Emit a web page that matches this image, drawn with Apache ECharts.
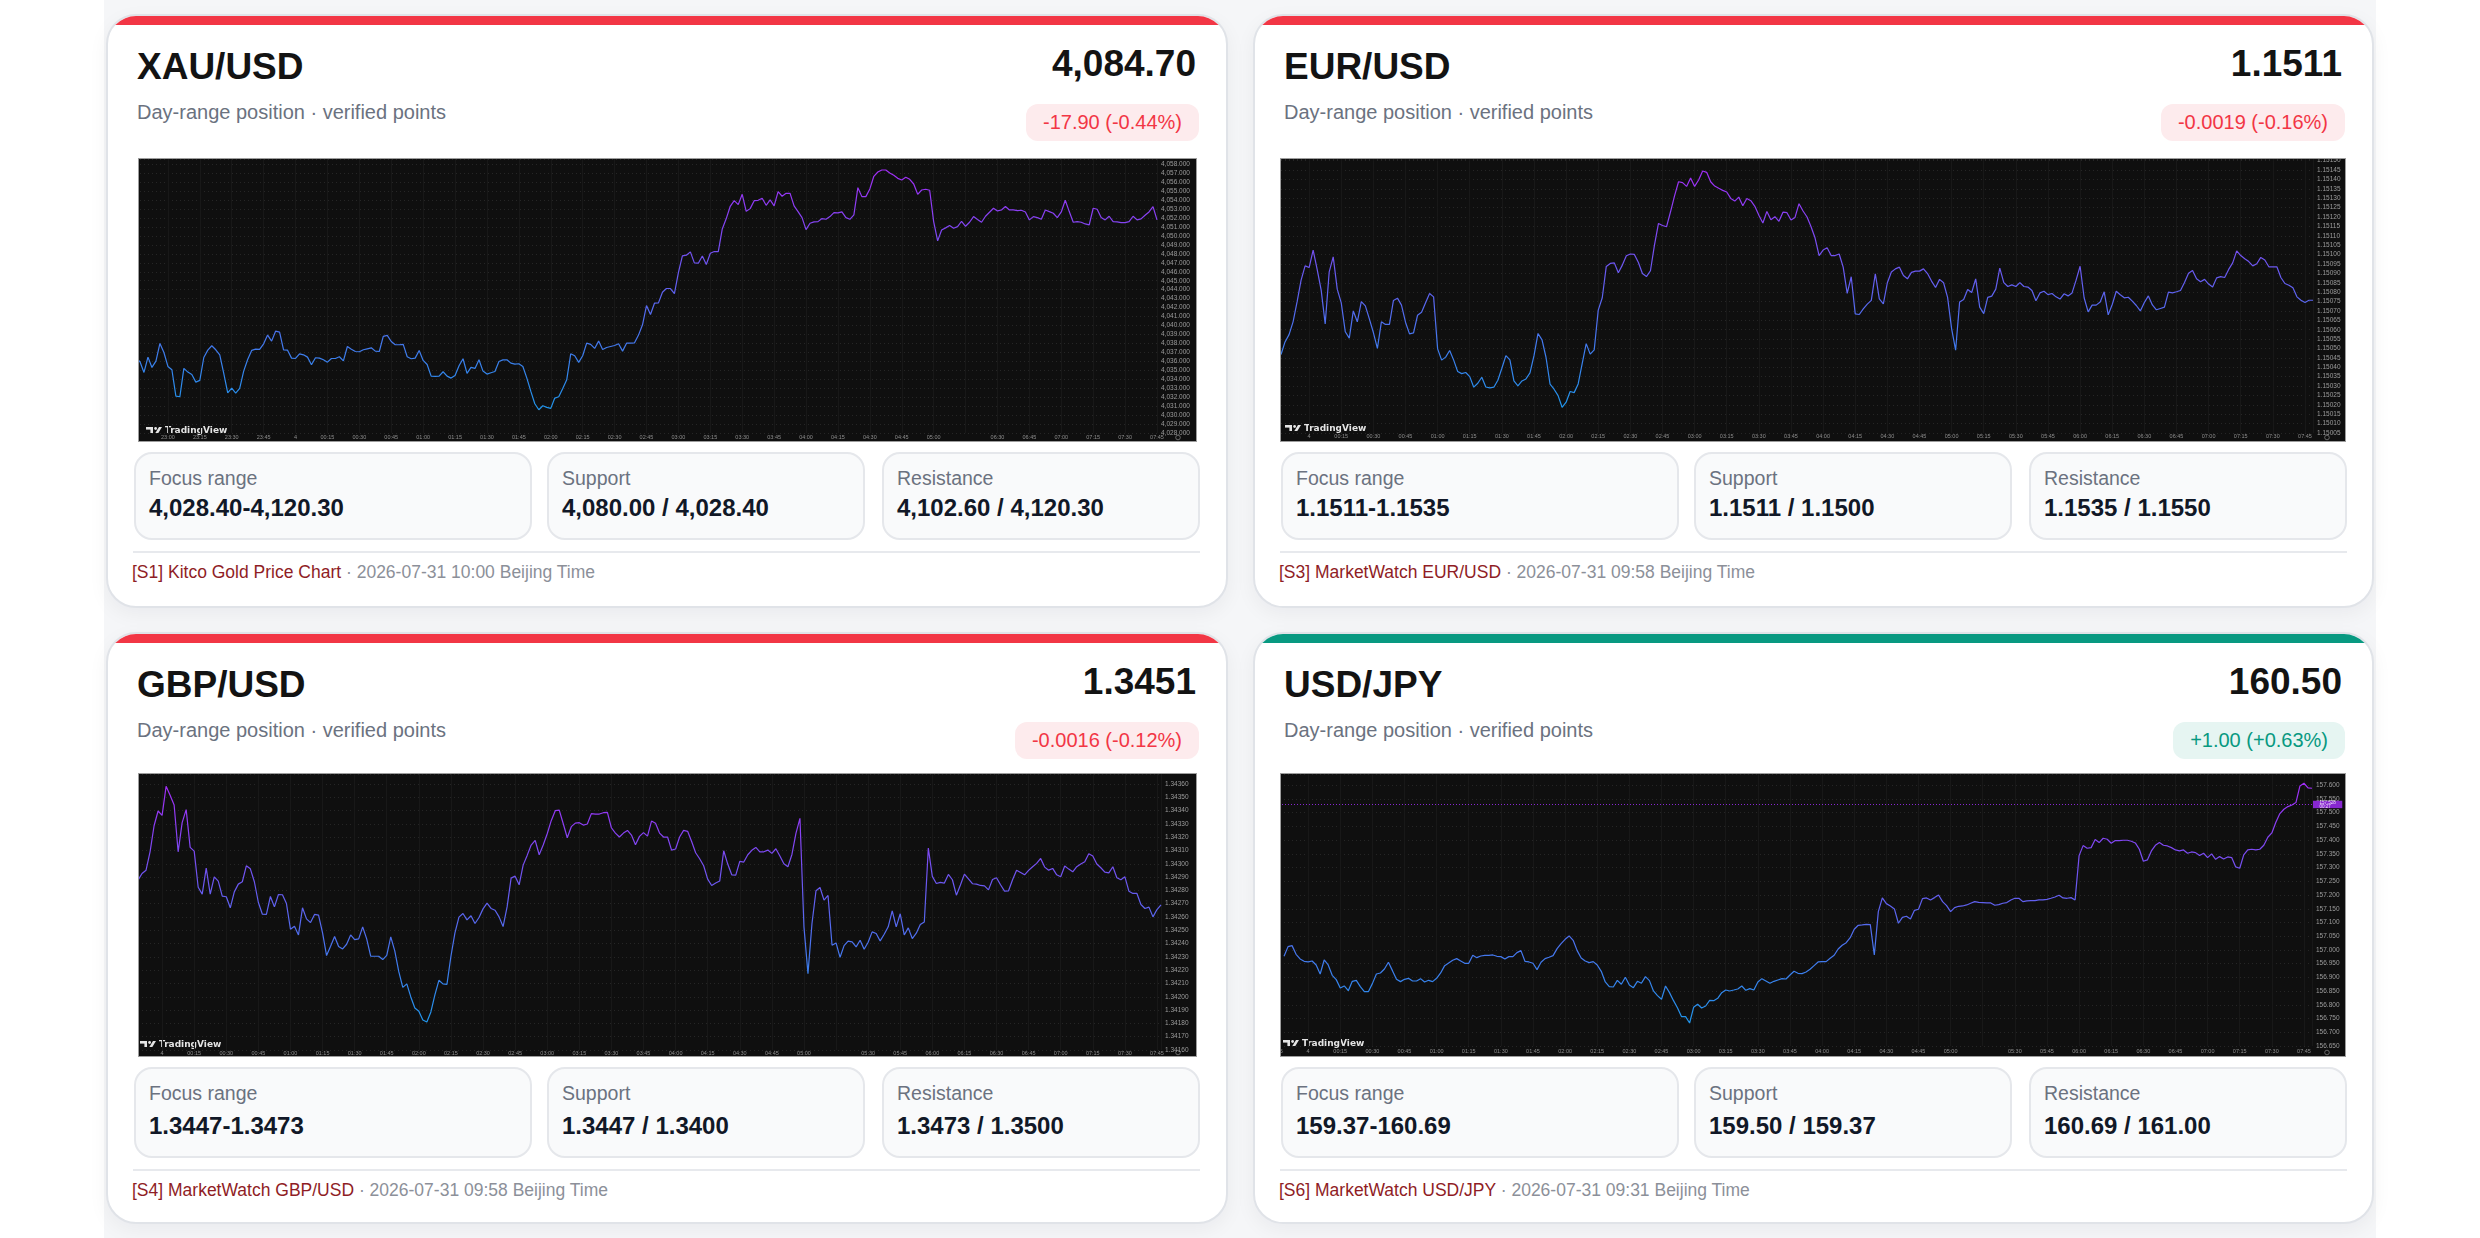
<!DOCTYPE html>
<html>
<head>
<meta charset="utf-8">
<title>FX day-range dashboard</title>
<script src="https://cdn.jsdelivr.net/npm/echarts@6/dist/echarts.min.js"></script>
<style>
html, body { margin:0; padding:0; width:2480px; height:1238px; overflow:hidden; background:#ffffff; font-family:"Liberation Sans", Arial, Helvetica, sans-serif; }
#wrap { position:absolute; left:104px; top:0; width:2272px; height:1238px; background:#f5f6f8; }
.card { position:absolute; box-sizing:border-box; border:2px solid #e0e3e8; border-radius:30px; background:#fff; overflow:hidden; box-shadow:0 6px 20px rgba(17,24,39,0.05); }
.bar { position:absolute; left:0; top:0; right:0; height:9px; }
.title { position:absolute; left:29px; top:32px; font-size:37px; line-height:37px; font-weight:700; color:#131313; white-space:nowrap; }
.price { position:absolute; right:30px; top:29px; font-size:37px; line-height:37px; font-weight:700; color:#131313; white-space:nowrap; }
.sub { position:absolute; left:29px; top:86px; font-size:20px; line-height:20px; color:#6b7280; white-space:nowrap; }
.badge { position:absolute; right:27px; top:88px; height:37px; line-height:37px; padding:0 17px; border-radius:12px; font-size:20px; white-space:nowrap; }
.chartbox { position:absolute; box-sizing:border-box; border:1px solid #9d9d9d; background:#0f0f0f; overflow:hidden; }
.chart { position:absolute; left:0; top:0; width:100%; height:100%; }
.box { position:absolute; box-sizing:border-box; border:2px solid #e5e7eb; border-radius:18px; background:#f9fafb; }
.lab { position:absolute; left:13px; font-size:19.5px; line-height:19.5px; color:#6b7280; white-space:nowrap; }
.val { position:absolute; left:13px; font-size:24px; line-height:24px; font-weight:700; color:#111827; white-space:nowrap; }
.sep { position:absolute; left:25px; width:1067px; top:535px; height:2px; background:#e7e9ed; }
.foot { position:absolute; left:24px; top:548px; font-size:17.5px; line-height:17.5px; color:#8c9099; white-space:nowrap; }
.foot .src { color:#8f1d25; }
</style>
</head>
<body>
<div id="wrap"></div>
<script>
// ---------------- card texts ----------------
const pairs = ['XAU/USD', 'EUR/USD', 'GBP/USD', 'USD/JPY'];
const lastPrices = ['4,084.70', '1.1511', '1.3451', '160.50'];
const changes = ['-17.90 (-0.44%)', '-0.0019 (-0.16%)', '-0.0016 (-0.12%)', '+1.00 (+0.63%)'];
const directions = ['down', 'down', 'down', 'up'];
const subtitle = 'Day-range position \u00b7 verified points';
const boxLabels = ['Focus range', 'Support', 'Resistance'];
const focusRanges = ['4,028.40-4,120.30', '1.1511-1.1535', '1.3447-1.3473', '159.37-160.69'];
const supports = ['4,080.00 / 4,028.40', '1.1511 / 1.1500', '1.3447 / 1.3400', '159.50 / 159.37'];
const resistances = ['4,102.60 / 4,120.30', '1.1535 / 1.1550', '1.3473 / 1.3500', '160.69 / 161.00'];
const sources = ['[S1] Kitco Gold Price Chart', '[S3] MarketWatch EUR/USD', '[S4] MarketWatch GBP/USD', '[S6] MarketWatch USD/JPY'];
const stamps = ['2026-07-31 10:00 Beijing Time', '2026-07-31 09:58 Beijing Time', '2026-07-31 09:58 Beijing Time', '2026-07-31 09:31 Beijing Time'];

// ---------------- chart series (8 readings per 15-minute slot) ----------------
const xauValues = [
  4036.36, 4035.95, 4034.76, 4036.47, 4035.32, 4036.03, 4038.00, 4036.99,
  4035.43, 4035.06, 4032.12, 4032.05, 4035.21, 4034.80, 4034.54, 4033.68,
  4033.87, 4036.43, 4037.25, 4037.74, 4037.29, 4036.73, 4034.65, 4032.49,
  4033.01, 4032.46, 4032.98, 4034.91, 4036.21, 4037.22, 4037.36, 4037.33,
  4037.96, 4038.93, 4038.26, 4039.37, 4039.26, 4037.29, 4037.25, 4036.36,
  4036.32, 4036.84, 4036.73, 4036.47, 4035.62, 4036.40, 4036.36, 4036.17,
  4035.91, 4036.32, 4036.32, 4036.51, 4036.06, 4037.66, 4037.36, 4037.10,
  4037.07, 4037.29, 4037.40, 4037.51, 4037.14, 4037.10, 4038.78, 4038.89,
  4038.22, 4037.85, 4037.85, 4037.89, 4036.51, 4036.29, 4036.36, 4037.22,
  4036.10, 4035.65, 4034.35, 4034.32, 4034.35, 4034.84, 4034.35, 4034.13,
  4034.43, 4035.51, 4036.29, 4034.65, 4035.32, 4035.21, 4036.17, 4034.91,
  4034.58, 4034.73, 4034.87, 4035.99, 4036.17, 4036.17, 4035.80, 4035.69,
  4035.73, 4035.43, 4034.13, 4032.64, 4031.27, 4030.60, 4031.04, 4030.86,
  4030.75, 4031.90, 4032.05, 4032.98, 4033.94, 4036.84, 4036.62, 4035.88,
  4036.62, 4038.03, 4037.89, 4037.44, 4038.26, 4037.33, 4037.55, 4037.66,
  4037.77, 4037.96, 4037.14, 4038.03, 4038.03, 4038.07, 4038.93, 4040.08,
  4042.23, 4041.23, 4042.49, 4042.53, 4043.72, 4044.13, 4044.13, 4043.57,
  4045.91, 4047.77, 4047.85, 4048.22, 4046.99, 4046.96, 4047.77, 4046.81,
  4048.07, 4048.26, 4048.26, 4050.78, 4051.94, 4053.31, 4053.94, 4053.50,
  4054.65, 4052.75, 4053.05, 4053.94, 4053.98, 4054.20, 4053.42, 4054.02,
  4053.35, 4054.95, 4054.43, 4054.76, 4054.76, 4053.35, 4052.72, 4052.05,
  4050.71, 4051.42, 4051.57, 4051.60, 4051.94, 4051.86, 4052.16, 4052.61,
  4052.57, 4052.68, 4052.05, 4051.86, 4052.35, 4055.39, 4054.39, 4054.39,
  4055.25, 4056.66, 4057.14, 4057.36, 4057.36, 4057.03, 4056.77, 4056.43,
  4056.25, 4056.55, 4056.32, 4055.80, 4054.65, 4055.13, 4055.21, 4055.10,
  4051.60, 4049.45, 4050.67, 4050.90, 4051.16, 4050.86, 4051.04, 4051.64,
  4051.08, 4051.53, 4052.16, 4051.83, 4051.53, 4052.20, 4052.64, 4053.09,
  4052.79, 4052.90, 4053.28, 4052.90, 4052.90, 4052.83, 4052.87, 4052.68,
  4051.79, 4052.16, 4052.05, 4051.86, 4052.90, 4052.72, 4052.53, 4052.05,
  4052.68, 4053.98, 4052.72, 4051.53, 4051.60, 4051.53, 4051.34, 4051.23,
  4053.09, 4052.98, 4052.05, 4051.79, 4052.20, 4051.60, 4051.57, 4051.49,
  4051.49, 4051.60, 4052.20, 4051.79, 4051.90, 4052.31, 4052.68, 4053.28,
  4051.79
];
const eurValues = [
  1.150468, 1.150535, 1.150574, 1.150642, 1.150748, 1.150864, 1.150940, 1.150931,
  1.151024, 1.150921, 1.150811, 1.150631, 1.150908, 1.150988, 1.150816, 1.150743,
  1.150589, 1.150555, 1.150700, 1.150642, 1.150750, 1.150727, 1.150658, 1.150585,
  1.150501, 1.150642, 1.150628, 1.150628, 1.150756, 1.150768, 1.150731, 1.150640,
  1.150578, 1.150583, 1.150677, 1.150693, 1.150743, 1.150793, 1.150775, 1.150498,
  1.150438, 1.150454, 1.150489, 1.150438, 1.150377, 1.150366, 1.150372, 1.150350,
  1.150294, 1.150315, 1.150347, 1.150295, 1.150290, 1.150294, 1.150331, 1.150395,
  1.150462, 1.150439, 1.150327, 1.150301, 1.150327, 1.150338, 1.150370, 1.150462,
  1.150580, 1.150546, 1.150452, 1.150310, 1.150283, 1.150249, 1.150187, 1.150214,
  1.150271, 1.150265, 1.150311, 1.150420, 1.150526, 1.150470, 1.150493, 1.150704,
  1.150770, 1.150937, 1.150953, 1.150956, 1.150903, 1.150944, 1.150994, 1.151003,
  1.151001, 1.150958, 1.150899, 1.150883, 1.150914, 1.151050, 1.151166, 1.151155,
  1.151148, 1.151228, 1.151313, 1.151388, 1.151383, 1.151363, 1.151408, 1.151363,
  1.151397, 1.151445, 1.151438, 1.151388, 1.151365, 1.151353, 1.151342, 1.151333,
  1.151299, 1.151285, 1.151306, 1.151260, 1.151299, 1.151287, 1.151257, 1.151210,
  1.151168, 1.151230, 1.151186, 1.151202, 1.151177, 1.151226, 1.151223, 1.151184,
  1.151198, 1.151271, 1.151232, 1.151200, 1.151148, 1.151088, 1.150995, 1.151024,
  1.151036, 1.150995, 1.150995, 1.151003, 1.150933, 1.150793, 1.150882, 1.150684,
  1.150681, 1.150711, 1.150736, 1.150756, 1.150898, 1.150764, 1.150738, 1.150850,
  1.150907, 1.150924, 1.150933, 1.150889, 1.150871, 1.150905, 1.150912, 1.150912,
  1.150924, 1.150899, 1.150859, 1.150825, 1.150868, 1.150850, 1.150772, 1.150606,
  1.150491, 1.150748, 1.150761, 1.150814, 1.150798, 1.150871, 1.150720, 1.150686,
  1.150772, 1.150779, 1.150816, 1.150928, 1.150851, 1.150830, 1.150839, 1.150830,
  1.150851, 1.150830, 1.150827, 1.150809, 1.150754, 1.150796, 1.150805, 1.150787,
  1.150793, 1.150775, 1.150763, 1.150791, 1.150780, 1.150796, 1.150864, 1.150938,
  1.150770, 1.150695, 1.150731, 1.150731, 1.150748, 1.150802, 1.150679, 1.150734,
  1.150805, 1.150786, 1.150770, 1.150773, 1.150752, 1.150729, 1.150700, 1.150745,
  1.150780, 1.150732, 1.150706, 1.150713, 1.150720, 1.150800, 1.150796, 1.150802,
  1.150809, 1.150851, 1.150901, 1.150915, 1.150871, 1.150855, 1.150868, 1.150843,
  1.150828, 1.150876, 1.150883, 1.150878, 1.150921, 1.150956, 1.151020, 1.150995,
  1.150978, 1.150963, 1.150940, 1.150951, 1.150985, 1.150971, 1.150935, 1.150935,
  1.150935, 1.150878, 1.150846, 1.150837, 1.150823, 1.150775, 1.150757, 1.150745,
  1.150757, 1.150757
];
const gbpValues = [
  1.342877, 1.342927, 1.342952, 1.343090, 1.343286, 1.343397, 1.343364, 1.343582,
  1.343515, 1.343442, 1.343090, 1.343309, 1.343407, 1.343123, 1.343095, 1.342824,
  1.342772, 1.342968, 1.342772, 1.342902, 1.342870, 1.342757, 1.342752, 1.342669,
  1.342789, 1.342847, 1.342865, 1.342985, 1.342962, 1.342865, 1.342709, 1.342621,
  1.342619, 1.342754, 1.342676, 1.342769, 1.342767, 1.342701, 1.342508, 1.342531,
  1.342465, 1.342669, 1.342586, 1.342558, 1.342619, 1.342614, 1.342481, 1.342310,
  1.342380, 1.342453, 1.342378, 1.342360, 1.342395, 1.342465, 1.342430, 1.342435,
  1.342526, 1.342435, 1.342305, 1.342305, 1.342305, 1.342280, 1.342312, 1.342450,
  1.342345, 1.342189, 1.342071, 1.342097, 1.341999, 1.341916, 1.341891, 1.341825,
  1.341810, 1.341886, 1.342014, 1.342124, 1.342097, 1.342094, 1.342305, 1.342481,
  1.342599, 1.342626, 1.342578, 1.342609, 1.342551, 1.342596, 1.342661, 1.342704,
  1.342664, 1.342651, 1.342601, 1.342528, 1.342676, 1.342892, 1.342907, 1.342842,
  1.342990, 1.343063, 1.343141, 1.343176, 1.343068, 1.343141, 1.343226, 1.343324,
  1.343399, 1.343404, 1.343301, 1.343196, 1.343279, 1.343306, 1.343309, 1.343291,
  1.343299, 1.343377, 1.343374, 1.343374, 1.343384, 1.343387, 1.343271, 1.343231,
  1.343201, 1.343231, 1.343251, 1.343216, 1.343143, 1.343206, 1.343234, 1.343208,
  1.343321, 1.343304, 1.343231, 1.343201, 1.343201, 1.343103, 1.343111, 1.343201,
  1.343251, 1.343244, 1.343168, 1.343083, 1.343038, 1.342985, 1.342885, 1.342837,
  1.342855, 1.342870, 1.343098, 1.342998, 1.342917, 1.342915, 1.343018, 1.343013,
  1.343068, 1.343101, 1.343123, 1.343090, 1.343090, 1.343103, 1.343078, 1.343113,
  1.343058, 1.343000, 1.342978, 1.343070, 1.343229, 1.343342, 1.342526, 1.342174,
  1.342551, 1.342797, 1.342822, 1.342727, 1.342762, 1.342388, 1.342405, 1.342297,
  1.342385, 1.342418, 1.342413, 1.342375, 1.342425, 1.342358, 1.342410, 1.342488,
  1.342476, 1.342420, 1.342470, 1.342526, 1.342646, 1.342526, 1.342624, 1.342465,
  1.342518, 1.342438, 1.342478, 1.342543, 1.342563, 1.343118, 1.342905, 1.342852,
  1.342860, 1.342855, 1.342920, 1.342880, 1.342764, 1.342840, 1.342922, 1.342887,
  1.342850, 1.342847, 1.342837, 1.342834, 1.342804, 1.342882, 1.342895, 1.342842,
  1.342794, 1.342797, 1.342880, 1.342952, 1.342935, 1.342917, 1.342950, 1.342978,
  1.343003, 1.343040, 1.342975, 1.342952, 1.342965, 1.342917, 1.342902, 1.342983,
  1.342960, 1.342940, 1.342978, 1.342998, 1.343015, 1.343075, 1.343058, 1.342998,
  1.342970, 1.342937, 1.342932, 1.342978, 1.342895, 1.342880, 1.342902, 1.342794,
  1.342777, 1.342777, 1.342694, 1.342664, 1.342674, 1.342601, 1.342656, 1.342691
];
const jpyValues = [
  156.9768, 157.0120, 157.0157, 156.9841, 156.9671, 156.9586, 156.9562, 156.9598,
  156.9452, 156.9124, 156.9634, 156.9452, 156.9076, 156.8918, 156.8614, 156.8687,
  156.8517, 156.8857, 156.8893, 156.8663, 156.8480, 156.8480, 156.8772, 156.9124,
  156.9161, 156.9306, 156.9549, 156.9246, 156.8930, 156.8845, 156.8930, 156.8966,
  156.8869, 156.8869, 156.8954, 156.8833, 156.8893, 156.8845, 156.8966, 156.9161,
  156.9428, 156.9525, 156.9622, 156.9683, 156.9598, 156.9513, 156.9513, 156.9805,
  156.9719, 156.9780, 156.9805, 156.9805, 156.9817, 156.9768, 156.9756, 156.9671,
  156.9756, 156.9756, 156.9902, 156.9975, 156.9586, 156.9562, 156.9513, 156.9282,
  156.9549, 156.9683, 156.9732, 156.9792, 157.0047, 157.0230, 157.0388, 157.0509,
  157.0351, 156.9975, 156.9707, 156.9598, 156.9537, 156.9574, 156.9452, 156.9221,
  156.8833, 156.8663, 156.8650, 156.8893, 156.8748, 156.9003, 156.8723, 156.8626,
  156.8857, 156.8784, 156.9027, 156.8881, 156.8505, 156.8335, 156.8201, 156.8687,
  156.8444, 156.8152, 156.7885, 156.7569, 156.7569, 156.7338, 156.7909, 156.8019,
  156.7885, 156.7958, 156.8165, 156.8152, 156.8237, 156.8444, 156.8541, 156.8505,
  156.8541, 156.8578, 156.8687, 156.8529, 156.8590, 156.8541, 156.8833, 156.8954,
  156.8869, 156.8784, 156.8857, 156.8906, 156.8954, 156.8942, 156.9088, 156.9221,
  156.9149, 156.9136, 156.9197, 156.9294, 156.9428, 156.9562, 156.9574, 156.9574,
  156.9695, 156.9805, 157.0035, 157.0169, 157.0266, 157.0448, 157.0752, 157.0898,
  157.0910, 157.0934, 157.0922, 156.9817, 157.1396, 157.1894, 157.1687, 157.1602,
  157.1493, 157.0971, 157.1189, 157.1226, 157.1129, 157.1444, 157.1481, 157.1870,
  157.1894, 157.1821, 157.1906, 157.2003, 157.1760, 157.1615, 157.1396, 157.1542,
  157.1590, 157.1602, 157.1639, 157.1700, 157.1760, 157.1736, 157.1724, 157.1712,
  157.1712, 157.1627, 157.1651, 157.1700, 157.1724, 157.1821, 157.1882, 157.1882,
  157.1760, 157.1785, 157.1797, 157.1797, 157.1821, 157.1821, 157.1845, 157.1882,
  157.1930, 157.1991, 157.1894, 157.1882, 157.1906, 157.1821, 157.3437, 157.3801,
  157.3704, 157.3728, 157.4020, 157.3911, 157.4068, 157.4032, 157.3886, 157.3983,
  157.3983, 157.3996, 157.3996, 157.3959, 157.3898, 157.3668, 157.3230, 157.3279,
  157.3607, 157.3813, 157.3911, 157.3813, 157.3789, 157.3728, 157.3643, 157.3607,
  157.3643, 157.3522, 157.3570, 157.3546, 157.3437, 157.3522, 157.3364, 157.3498,
  157.3303, 157.3400, 157.3315, 157.3388, 157.3364, 157.3024, 157.2975, 157.3461,
  157.3643, 157.3668, 157.3643, 157.3668, 157.3813, 157.4105, 157.4263, 157.4652,
  157.4967, 157.5125, 157.5223, 157.5283, 157.5368, 157.5976, 157.6073, 157.5903,
  157.5891
];

// ---------------- time tick labels (one per 15-minute slot) ----------------
const xauTimeTicks = ['23:00','23:15','23:30','23:45','4','00:15','00:30','00:45','01:00','01:15','01:30','01:45','02:00','02:15','02:30','02:45','03:00','03:15','03:30','03:45','04:00','04:15','04:30','04:45','05:00','','06:30','06:45','07:00','07:15','07:30','07:45'];
const eurTimeTicks = ['4','00:15','00:30','00:45','01:00','01:15','01:30','01:45','02:00','02:15','02:30','02:45','03:00','03:15','03:30','03:45','04:00','04:15','04:30','04:45','05:00','05:15','05:30','05:45','06:00','06:15','06:30','06:45','07:00','07:15','07:30','07:45'];
const gbpTimeTicks = ['4','00:15','00:30','00:45','01:00','01:15','01:30','01:45','02:00','02:15','02:30','02:45','03:00','03:15','03:30','03:45','04:00','04:15','04:30','04:45','05:00','','05:30','05:45','06:00','06:15','06:30','06:45','07:00','07:15','07:30','07:45'];
const jpyTimeTicks = ['23:45','4','00:15','00:30','00:45','01:00','01:15','01:30','01:45','02:00','02:15','02:30','02:45','03:00','03:15','03:30','03:45','04:00','04:15','04:30','04:45','05:00','','05:30','05:45','06:00','06:15','06:30','06:45','07:00','07:15','07:30','07:45'];

// ---------------- price scale ranges and reference lines ----------------
const priceScaleMin = [4028, 1.15005, 1.34160, 156.65];
const priceScaleMax = [4058.59, 1.151509, 1.343675, 157.641];
const priceScaleStep = [1, 0.00005, 0.0001, 0.05];
const priceDecimals = [3, 5, 5, 3];
const refLines = [null, 1.15128, 1.34288, 157.528];
const refCountdowns = [null, '02:08', '00:40', '00:27'];

// ---------------- layout (style, not data) ----------------
const colLeft = [106, 1253], colWidth = [1122, 1121];
const rowTop = [14, 632], rowHeight = [594, 592];
const chartTop = [142, 139], chartLeft = [30, 25], chartWidth = [1059, 1066], chartHeight = 284;
const boxTop = [436, 433], boxHeight = [88, 91], labTop = [14.5, 14.5], valTop = [41.7, 44.7];
const boxLeft = [26, 439, 774], boxWidth = [398, 318, 318];
const upColor = '#089981', downColor = '#f23645';
const upBg = '#e6f5f2', downBg = '#fdebed';

const chartCfg = [
  { values: xauValues, xStart: -1,     ticks: xauTimeTicks, tickStart: 0,  xMax: 31,    gridLeft: -3, gridRight: 39, gridBottom: 8,  timeMargin: 1, outline: '#9a34f2', logoLeft: 7, logoBottom: 8 },
  { values: eurValues, xStart: -0.875, ticks: eurTimeTicks, tickStart: 0,  xMax: 31.25, gridLeft: -4, gridRight: 32, gridBottom: 8,  timeMargin: 0, outline: '#6a55ee', logoLeft: 4, logoBottom: 10 },
  { values: gbpValues, xStart: -0.75,  ticks: gbpTimeTicks, tickStart: 0,  xMax: 31.125, gridLeft: -9, gridRight: 35, gridBottom: 6, timeMargin: 0, outline: '#6a66f0', logoLeft: 1, logoBottom: 9 },
  { values: jpyValues, xStart: -0.75,  ticks: jpyTimeTicks, tickStart: -1, xMax: 31.25, gridLeft: -5, gridRight: 33, gridBottom: 10, timeMargin: 2, outline: '#9b34f2', logoLeft: 2, logoBottom: 10 }
];

function el(tag, cls, parent, text) {
  const e = document.createElement(tag);
  if (cls) e.className = cls;
  if (text !== undefined) e.textContent = text;
  parent.appendChild(e);
  return e;
}
function fmtNum(v, d) {
  const s = v.toFixed(d);
  const parts = s.split('.');
  return parts[0].replace(/\B(?=(\d{3})+(?!\d))/g, ',') + (parts[1] ? '.' + parts[1] : '');
}

const wrap = document.getElementById('wrap');
const chartEls = [];
pairs.forEach((pair, i) => {
  const col = i % 2, row = Math.floor(i / 2);
  const card = el('div', 'card', wrap);
  card.style.left = (colLeft[col] - 104) + 'px';
  card.style.top = rowTop[row] + 'px';
  card.style.width = colWidth[col] + 'px';
  card.style.height = rowHeight[row] + 'px';
  const up = directions[i] === 'up';
  const bar = el('div', 'bar', card);
  bar.style.background = up ? upColor : downColor;
  el('div', 'title', card, pair);
  el('div', 'price', card, lastPrices[i]);
  el('div', 'sub', card, subtitle);
  const badge = el('div', 'badge', card, changes[i]);
  badge.style.background = up ? upBg : downBg;
  badge.style.color = up ? upColor : downColor;
  const cb = el('div', 'chartbox', card);
  cb.style.left = chartLeft[col] + 'px';
  cb.style.top = chartTop[row] + 'px';
  cb.style.width = chartWidth[col] + 'px';
  cb.style.height = chartHeight + 'px';
  chartEls.push(el('div', 'chart', cb));
  const vals = [focusRanges[i], supports[i], resistances[i]];
  boxLabels.forEach((lab, k) => {
    const b = el('div', 'box', card);
    b.style.left = boxLeft[k] + 'px';
    b.style.width = boxWidth[k] + 'px';
    b.style.top = boxTop[row] + 'px';
    b.style.height = boxHeight[row] + 'px';
    const l = el('div', 'lab', b, lab); l.style.top = labTop[row] + 'px';
    const v = el('div', 'val', b, vals[k]); v.style.top = valTop[row] + 'px';
  });
  el('div', 'sep', card);
  const f = el('div', 'foot', card);
  el('span', 'src', f, sources[i]);
  f.appendChild(document.createTextNode(' \u00b7 ' + stamps[i]));
});

const FONT = '"Liberation Sans", Arial, sans-serif';
const STEP = 1 / 8;
const lineGradient = { type: 'linear', x: 0, y: 0, x2: 0, y2: 1, global: false,
  colorStops: [{ offset: 0, color: '#a22cf5' }, { offset: 0.5, color: '#6061f0' }, { offset: 1, color: '#1f96ea' }] };

chartCfg.forEach((cfg, i) => {
  const dom = chartEls[i];
  const chart = echarts.init(dom, null, { renderer: 'canvas' });
  const W = dom.clientWidth, H = dom.clientHeight;
  const step = priceScaleStep[i], dec = priceDecimals[i];
  const fmt = v => fmtNum(v, dec);
  const isTick = v => Math.abs(v / step - Math.round(v / step)) < 1e-6;
  const data = cfg.values.map((v, k) => [cfg.xStart + k * STEP, v]);
  const last = cfg.values[cfg.values.length - 1];
  const ml = [];
  if (refLines[i] !== null) {
    ml.push({ yAxis: refLines[i],
      lineStyle: { color: '#9c2cf2', type: [1, 2], width: 1, opacity: 0.85 },
      label: { show: true, position: 'end', distance: 1, formatter: fmt(refLines[i]) + '\n' + refCountdowns[i],
        backgroundColor: '#9c2cf2', color: '#ffffff', fontSize: 4.5, lineHeight: 3.7, padding: [0, 6.5], fontFamily: FONT } });
  }
  ml.push({ yAxis: last, lineStyle: { opacity: 0 },
    label: { show: true, position: 'end', distance: 1, formatter: fmt(last),
      backgroundColor: '#0f0f0f', borderColor: cfg.outline, borderWidth: 0.8, color: '#d6d6d6',
      fontSize: 4.5, lineHeight: 4, padding: [0, 6.5], fontFamily: FONT } });

  const lx = cfg.logoLeft, ly = H - cfg.logoBottom - 6;
  const wm = '#e4e4e4';
  chart.setOption({
    animation: false,
    backgroundColor: '#0f0f0f',
    grid: { left: cfg.gridLeft, right: cfg.gridRight, top: 0, bottom: cfg.gridBottom, containLabel: false, outerBoundsMode: 'none' },
    xAxis: {
      type: 'value', min: -1, max: cfg.xMax, interval: 1,
      axisLine: { show: false }, axisTick: { show: false },
      axisLabel: { show: true, margin: cfg.timeMargin, fontSize: 5.5, color: '#8e8e8e', fontFamily: FONT,
        hideOverlap: false, showMinLabel: true, showMaxLabel: true,
        formatter: v => { const k = Math.round(v); if (Math.abs(v - k) > 1e-6) return ''; return cfg.ticks[k - cfg.tickStart] || ''; } },
      splitLine: { show: true, lineStyle: { color: '#181818', width: 1 } }
    },
    yAxis: {
      type: 'value', position: 'right', min: priceScaleMin[i], max: priceScaleMax[i], interval: step,
      axisLine: { show: false }, axisTick: { show: false },
      axisLabel: { show: true, margin: 4, fontSize: 6.5, color: '#9c9c9c', fontFamily: FONT, hideOverlap: false,
        showMinLabel: true, showMaxLabel: false, formatter: v => isTick(v) ? fmt(v) : '' },
      splitLine: { show: true, lineStyle: { color: '#262626', type: [1, 3], width: 1 } }
    },
    series: [{
      type: 'line', data: data, showSymbol: false, symbol: 'none', clip: false, silent: true,
      lineStyle: { width: 1.2, color: lineGradient },
      markLine: { silent: true, symbol: ['none', 'none'], animation: false, data: ml }
    }],
    graphic: [
      { type: 'group', x: lx, y: ly, silent: true, children: [
        { type: 'rect', shape: { x: 0, y: 0, width: 7, height: 2.6 }, style: { fill: wm } },
        { type: 'rect', shape: { x: 4.4, y: 0, width: 2.6, height: 6 }, style: { fill: wm } },
        { type: 'circle', shape: { cx: 9.6, cy: 1.5, r: 1.4 }, style: { fill: wm } },
        { type: 'polygon', shape: { points: [[13, 0], [16, 0], [12.3, 6], [9.3, 6]] }, style: { fill: wm } },
        { type: 'text', x: 19, y: 3.2, style: { text: 'TradingView', fontSize: 9, fontWeight: 'bold', fontFamily: '"DejaVu Sans", sans-serif', fill: wm, align: 'left', verticalAlign: 'middle' } }
      ] },
      { type: 'circle', silent: true, shape: { cx: W - 18, cy: H - 3.5, r: 2.3 }, style: { fill: 'none', stroke: '#8a8a8a', lineWidth: 0.7 } }
    ]
  });
});
</script>
</body>
</html>
